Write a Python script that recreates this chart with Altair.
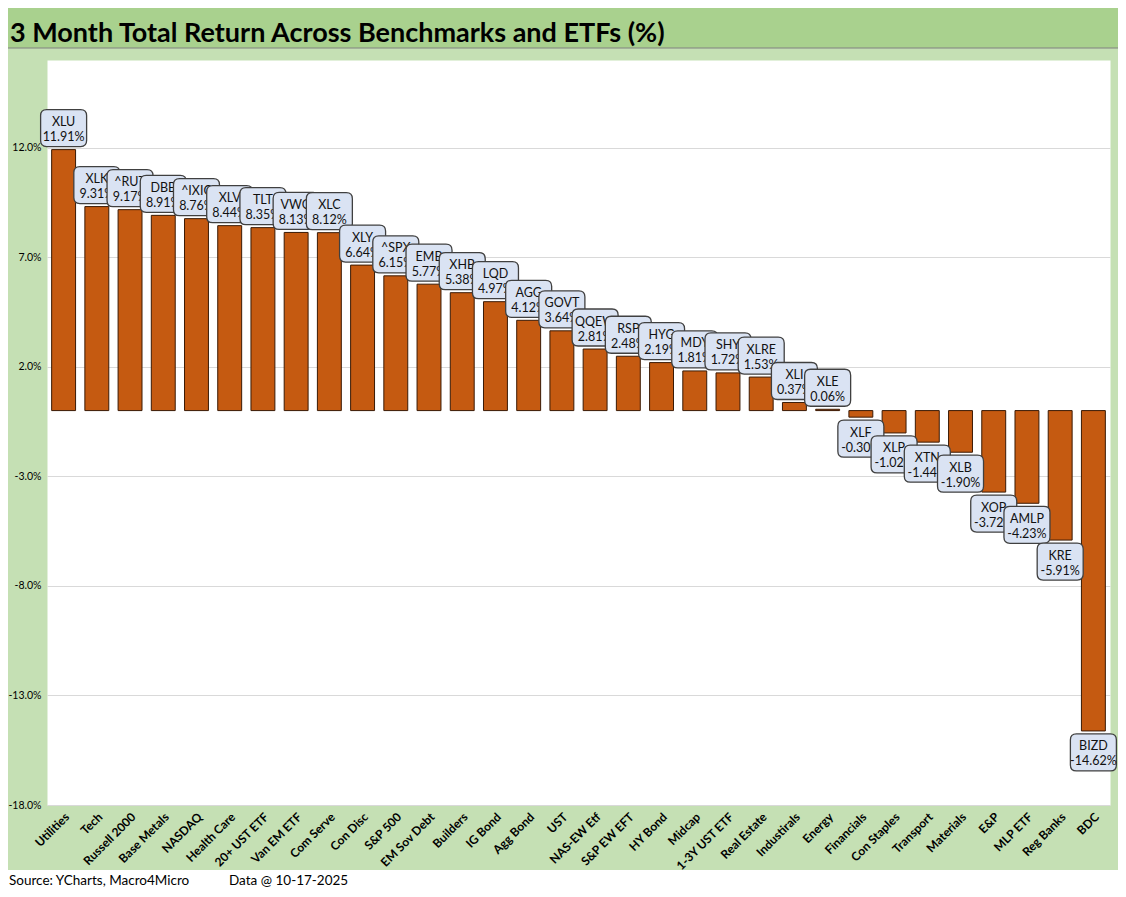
import altair as alt
import pandas as pd

TITLE = "3 Month Total Return Across Benchmarks and ETFs (%)"
SOURCE = "Source: YCharts, Macro4Micro"
DATA_NOTE = "Data @ 10-17-2025"

names = ["Utilities", "Tech", "Russell 2000", "Base Metals", "NASDAQ", "Health Care",
         "20+ UST ETF", "Van EM ETF", "Com Serve", "Con Disc", "S&P 500", "EM Sov Debt",
         "Builders", "IG Bond", "Agg Bond", "UST", "NAS-EW Etf", "S&P EW EFT", "HY Bond",
         "Midcap", "1-3Y UST ETF", "Real Estate", "Industirals", "Energy", "Financials",
         "Con Staples", "Transport", "Materials", "E&P", "MLP ETF", "Reg Banks", "BDC"]
tickers = ["XLU", "XLK", "^RUT", "DBB", "^IXIC", "XLV", "TLT", "VWO", "XLC", "XLY", "^SPX",
           "EMB", "XHB", "LQD", "AGG", "GOVT", "QQEW", "RSP", "HYG", "MDY", "SHY", "XLRE",
           "XLI", "XLE", "XLF", "XLP", "XTN", "XLB", "XOP", "AMLP", "KRE", "BIZD"]
values = [11.91, 9.31, 9.17, 8.91, 8.76, 8.44, 8.35, 8.13, 8.12, 6.64, 6.15, 5.77, 5.38,
          4.97, 4.12, 3.64, 2.81, 2.48, 2.19, 1.81, 1.72, 1.53, 0.37, 0.06, -0.30, -1.02,
          -1.44, -1.90, -3.72, -4.23, -5.91, -14.62]
y_ticks = [-18, -13, -8, -3, 2, 7, 12]
y_domain = [-18, 16]

df = pd.DataFrame({"name": names, "ticker": tickers, "value": values,
                   "idx": list(range(len(names)))})

W, H = 1063, 745
PL, PT, PR, PB = 39, 52, 8, 84
FONT = "Lato"

x_enc = alt.X("name:N", sort=names,
              scale=alt.Scale(paddingInner=0.28, paddingOuter=0.14),
              axis=alt.Axis(title=None, labelAngle=-45, labelFont=FONT, labelFontSize=12,
                            labelFontWeight="bold", labelColor="#000000", domain=False,
                            ticks=False, grid=False, labelPadding=6, labelOverlap=False))
y_enc = alt.Y("value:Q", scale=alt.Scale(domain=y_domain, nice=False, zero=False),
              axis=alt.Axis(title=None, values=y_ticks,
                            labelExpr="(datum.value < 0 ? '-' : '') + format(abs(datum.value), '.1f') + '%'",
                            grid=True, gridColor="#d9d9d9", gridWidth=1, domain=False,
                            ticks=False, labelFont=FONT, labelFontSize=10.5,
                            labelColor="#000000", labelPadding=6))

one = pd.DataFrame({"t": [TITLE]})
title_bar = alt.Chart(one).mark_rect(color="#a9d18e").encode(
    x=alt.value(-PL), x2=alt.value(W + PR), y=alt.value(-PT), y2=alt.value(-12))
title_line = alt.Chart(one).mark_rule(color="#808080", strokeWidth=1).encode(
    x=alt.value(-PL), x2=alt.value(W + PR), y=alt.value(-12))
title_txt = alt.Chart(one).mark_text(align="left", baseline="middle", font=FONT,
                                     fontSize=27, fontWeight="bold", color="#000000").encode(
    x=alt.value(-37), y=alt.value(-26), text="t:N")
footer_bg = alt.Chart(one).mark_rect(color="#ffffff").encode(
    x=alt.value(-PL), x2=alt.value(W + PR), y=alt.value(810), y2=alt.value(H + PB))
src_txt = alt.Chart(pd.DataFrame({"t": [SOURCE]})).mark_text(
    align="left", baseline="middle", font=FONT, fontSize=13.5, color="#000000").encode(
    x=alt.value(-38), y=alt.value(821), text="t:N")
date_txt = alt.Chart(pd.DataFrame({"t": [DATA_NOTE]})).mark_text(
    align="left", baseline="middle", font=FONT, fontSize=13.5, color="#000000").encode(
    x=alt.value(182), y=alt.value(821), text="t:N")

bars = alt.Chart(df).mark_bar(color="#c55a11", stroke="#3a1a05", strokeWidth=1).encode(
    x=x_enc, y=y_enc)

BOX = ("M -0.68,-0.74 L 0.68,-0.74 Q 0.92,-0.74 0.92,-0.5 L 0.92,0.5 "
       "Q 0.92,0.74 0.68,0.74 L -0.68,0.74 Q -0.92,0.74 -0.92,0.5 "
       "L -0.92,-0.5 Q -0.92,-0.74 -0.68,-0.74 Z")

label_layers = []
for i, v in enumerate(values):
    off = -21.5 if v >= 0 else 21.5
    base = alt.Chart(df).transform_filter(alt.datum.idx == i).transform_calculate(
        lab="datum.ticker + '\\n' + (datum.value < 0 ? '-' : '') + format(abs(datum.value), '.2f') + '%'")
    box = base.mark_point(shape=BOX, size=2500, filled=True, fill="#dae3f3",
                          stroke="#404040", strokeWidth=1.3, opacity=1,
                          yOffset=off).encode(x=x_enc, y=y_enc)
    txt = base.mark_text(font=FONT, fontSize=12.5, color="#111111", lineBreak="\n",
                         lineHeight=15, baseline="middle", yOffset=off - 6).encode(
        x=x_enc, y=y_enc, text="lab:N")
    label_layers += [box, txt]

chart = alt.layer(title_bar, title_line, title_txt, footer_bg, src_txt, date_txt, bars,
                  *label_layers).properties(
    width=W, height=H,
    padding={"left": PL, "top": PT, "right": PR, "bottom": PB},
    autosize=alt.AutoSizeParams(type="none"),
).configure(background="#c5e0b4").configure_view(fill="#ffffff", stroke="transparent")

chart.save("out.html", embed_options={"renderer": "svg", "actions": False})
